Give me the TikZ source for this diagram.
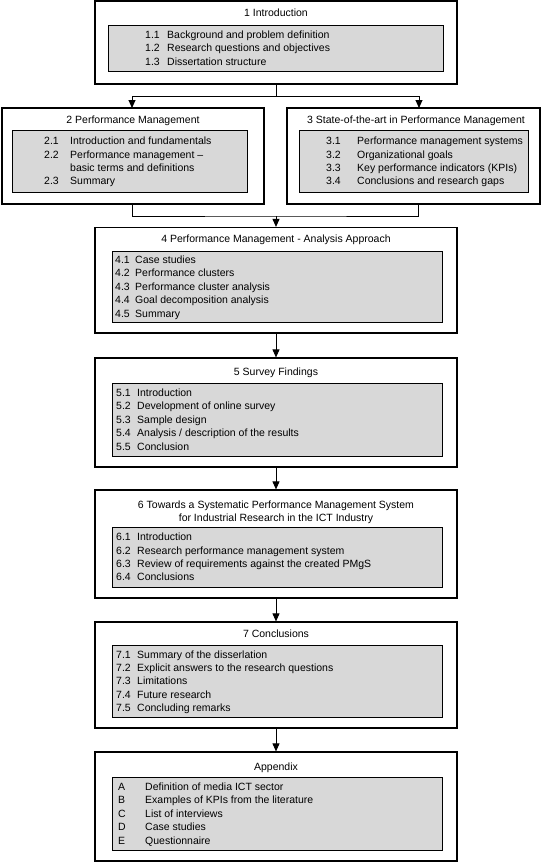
\documentclass[tikz,border=0pt]{standalone}
\usepackage{fontspec}
\setmainfont{Liberation Sans}
\usetikzlibrary{arrows.meta,fit}
\definecolor{boxgray}{RGB}{216,216,216}
\begin{document}
\begin{tikzpicture}[x=1pt,y=-1pt,
  outer/.style={draw=black, line width=1.2pt, inner sep=0pt},
  inner/.style={draw=black, line width=0.9pt, fill=boxgray, inner sep=0pt},
  title/.style={inner sep=0pt, anchor=base, font=\fontsize{10.5}{13.4}\selectfont},
  list/.style={inner sep=0pt, anchor=base west, font=\fontsize{10.5}{13.4}\selectfont},
  conn/.style={line width=0.9pt},
  arr/.style={conn, -{Triangle[width=7pt,length=8pt]}}
]
\useasboundingbox (0,0) rectangle (551,862);

% ---------- Box 1
\node[outer, fit={(95,1) (457,84)}] (c1) {};
\node[inner, fit={(108,25) (443,71)}] (i1) {};
\node[title] (h1) at (276,16.8) {1 Introduction};
\node[list] (l1) at (145,38.4) {\begin{tabular}[t]{@{}p{22pt}@{}l@{}}
1.1 & Background and problem definition\\
1.2 & Research questions and objectives\\
1.3 & Dissertation structure
\end{tabular}};

% ---------- Box 2
\node[outer, fit={(2,108) (264,204)}] (c2) {};
\node[inner, fit={(12,130) (247,192)}] (i2) {};
\node[title] (h2) at (133,123.8) {2 Performance Management};
\node[list] (l2) at (44,144.7) {\begin{tabular}[t]{@{}p{26pt}@{}l@{}}
2.1 & Introduction and fundamentals\\
2.2 & Performance management --\\
    & basic terms and definitions\\
2.3 & Summary
\end{tabular}};

% ---------- Box 3
\node[outer, fit={(287,108) (540,204)}] (c3) {};
\node[inner, fit={(299,130) (528,192)}] (i3) {};
\node[title] (h3) at (416,123.8) {3 State-of-the-art in Performance Management};
\node[list] (l3) at (326,144.7) {\begin{tabular}[t]{@{}p{31pt}@{}l@{}}
3.1 & Performance management systems\\
3.2 & Organizational goals\\
3.3 & Key performance indicators (KPIs)\\
3.4 & Conclusions and research gaps
\end{tabular}};

% ---------- Box 4
\node[outer, fit={(95,227.5) (457,333)}] (c4) {};
\node[inner, fit={(112,251) (442,322)}] (i4) {};
\node[title] (h4) at (276,242.8) {4 Performance Management - Analysis Approach};
\node[list] (l4) at (115,263.5) {\begin{tabular}[t]{@{}p{20pt}@{}l@{}}
4.1 & Case studies\\
4.2 & Performance clusters\\
4.3 & Performance cluster analysis\\
4.4 & Goal decomposition analysis\\
4.5 & Summary
\end{tabular}};

% ---------- Box 5
\node[outer, fit={(95,358) (457,467)}] (c5) {};
\node[inner, fit={(112,383) (442,456)}] (i5) {};
\node[title] (h5) at (276,375.8) {5 Survey Findings};
\node[list] (l5) at (116,396.5) {\begin{tabular}[t]{@{}p{21pt}@{}l@{}}
5.1 & Introduction\\
5.2 & Development of online survey\\
5.3 & Sample design\\
5.4 & Analysis / description of the results\\
5.5 & Conclusion
\end{tabular}};

% ---------- Box 6
\node[outer, fit={(95,490) (457,598)}] (c6) {};
\node[inner, fit={(112,527) (442,587)}] (i6) {};
\node[title] (h6a) at (276,508.8) {6 Towards a Systematic Performance Management System};
\node[title] (h6b) at (276,521.8) {for Industrial Research in the ICT Industry};
\node[list] (l6) at (116,540.7) {\begin{tabular}[t]{@{}p{21pt}@{}l@{}}
6.1 & Introduction\\
6.2 & Research performance management system\\
6.3 & Review of requirements against the created PMgS\\
6.4 & Conclusions
\end{tabular}};

% ---------- Box 7
\node[outer, fit={(95,622) (457,728)}] (c7) {};
\node[inner, fit={(112,645) (442,717)}] (i7) {};
\node[title] (h7) at (276,637.8) {7 Conclusions};
\node[list] (l7) at (116,658) {\begin{tabular}[t]{@{}p{21pt}@{}l@{}}
7.1 & Summary of the disserlation\\
7.2 & Explicit answers to the research questions\\
7.3 & Limitations\\
7.4 & Future research\\
7.5 & Concluding remarks
\end{tabular}};

% ---------- Appendix
\node[outer, fit={(95,752) (457,861)}] (c8) {};
\node[inner, fit={(112,777) (442,850)}] (i8) {};
\node[title] (h8) at (276,770.8) {Appendix};
\node[list] (l8) at (118,790.5) {\begin{tabular}[t]{@{}p{27pt}@{}l@{}}
A & Definition of media ICT sector\\
B & Examples of KPIs from the literature\\
C & List of interviews\\
D & Case studies\\
E & Questionnaire
\end{tabular}};

% ---------- Connectors
\coordinate (j1) at (276,96);
\coordinate (in2) at (132,108);
\coordinate (in3) at (419,108);
\coordinate (out2) at (132,204);
\coordinate (out3) at (418,204);
\coordinate (j2) at (276,216);
\draw[conn] (c1.south) -- (j1);
\draw[arr] (j1) -| (in2);
\draw[arr] (j1) -| (in3);
\draw[conn] (out2) |- (j2) -| (out3);
\draw[arr] (j2) -- (c4.north);
\draw[arr] (c4.south) -- (c5.north);
\draw[arr] (c5.south) -- (c6.north);
\draw[arr] (c6.south) -- (c7.north);
\draw[arr] (c7.south) -- (c8.north);
\end{tikzpicture}
\end{document}
